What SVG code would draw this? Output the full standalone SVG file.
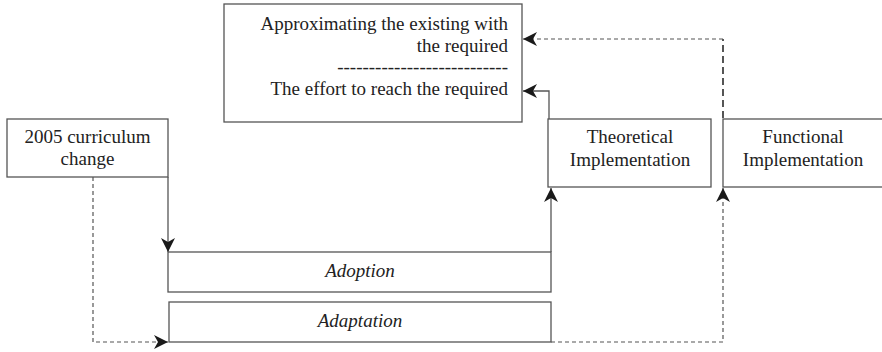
<svg xmlns="http://www.w3.org/2000/svg" width="882" height="352" viewBox="0 0 882 352">
<defs>
<marker id="ah" markerWidth="16" markerHeight="14" refX="14" refY="7" orient="auto" markerUnits="userSpaceOnUse">
<path d="M0,0 L14,7 L0,14 L4,7 z" fill="#1a1a1a"/>
</marker>
</defs>
<rect width="882" height="352" fill="#fff"/>
<g id="connectors" fill="none" stroke="#555">
<path stroke-width="1.3" d="M168,177 V252" marker-end="url(#ah)"/>
<path stroke-width="1.2" stroke-dasharray="4 3" d="M93,177 V342 H168" marker-end="url(#ah)"/>
<path stroke-width="1.3" d="M551,252 V188" marker-end="url(#ah)"/>
<path stroke-width="1.2" stroke-dasharray="4 3" d="M551,342 H723 V188" marker-end="url(#ah)"/>
<path stroke-width="1.3" d="M549,142 V91 H523" marker-end="url(#ah)"/>
<path stroke-width="1.8" stroke="#444" stroke-dasharray="7 4" d="M723,118 V39"/>
<path stroke-width="1.2" stroke-dasharray="4 3" d="M723,39 H523" marker-end="url(#ah)"/>
<path stroke-width="2" d="M549,120 V142"/>
</g>
<g font-family="Liberation Serif" font-size="19" fill="#222">
<g id="goal">
<rect fill="#fff" stroke="#555" stroke-width="1.3" x="224" y="4" width="298" height="118"/>
<text text-anchor="end" x="508" y="30">Approximating the existing with</text>
<text text-anchor="end" x="508" y="52">the required</text>
<text text-anchor="end" x="508" y="73">---------------------------</text>
<text text-anchor="end" x="508" y="95">The effort to reach the required</text>
</g>
<g id="change">
<rect fill="#fff" stroke="#555" stroke-width="1.3" x="7" y="119" width="161" height="58"/>
<text text-anchor="middle" x="87.5" y="143">2005 curriculum</text>
<text text-anchor="middle" x="87.5" y="165">change</text>
</g>
<g id="theoretical">
<rect fill="#fff" stroke="#555" stroke-width="1.3" x="548" y="119" width="163" height="68"/>
<text text-anchor="middle" x="630" y="143">Theoretical</text>
<text text-anchor="middle" x="630" y="166">Implementation</text>
</g>
<g id="functional">
<rect fill="#fff" stroke="#555" stroke-width="1.3" x="723" y="119" width="170" height="68"/>
<text text-anchor="middle" x="803" y="143">Functional</text>
<text text-anchor="middle" x="803" y="166">Implementation</text>
</g>
<g id="adoption">
<rect fill="#fff" stroke="#555" stroke-width="1.3" x="168" y="252" width="383" height="40"/>
<text text-anchor="middle" font-style="italic" x="360" y="277">Adoption</text>
</g>
<g id="adaptation">
<rect fill="#fff" stroke="#555" stroke-width="1.3" x="169" y="302" width="382" height="40"/>
<text text-anchor="middle" font-style="italic" x="360" y="327">Adaptation</text>
</g>
</g>
</svg>
